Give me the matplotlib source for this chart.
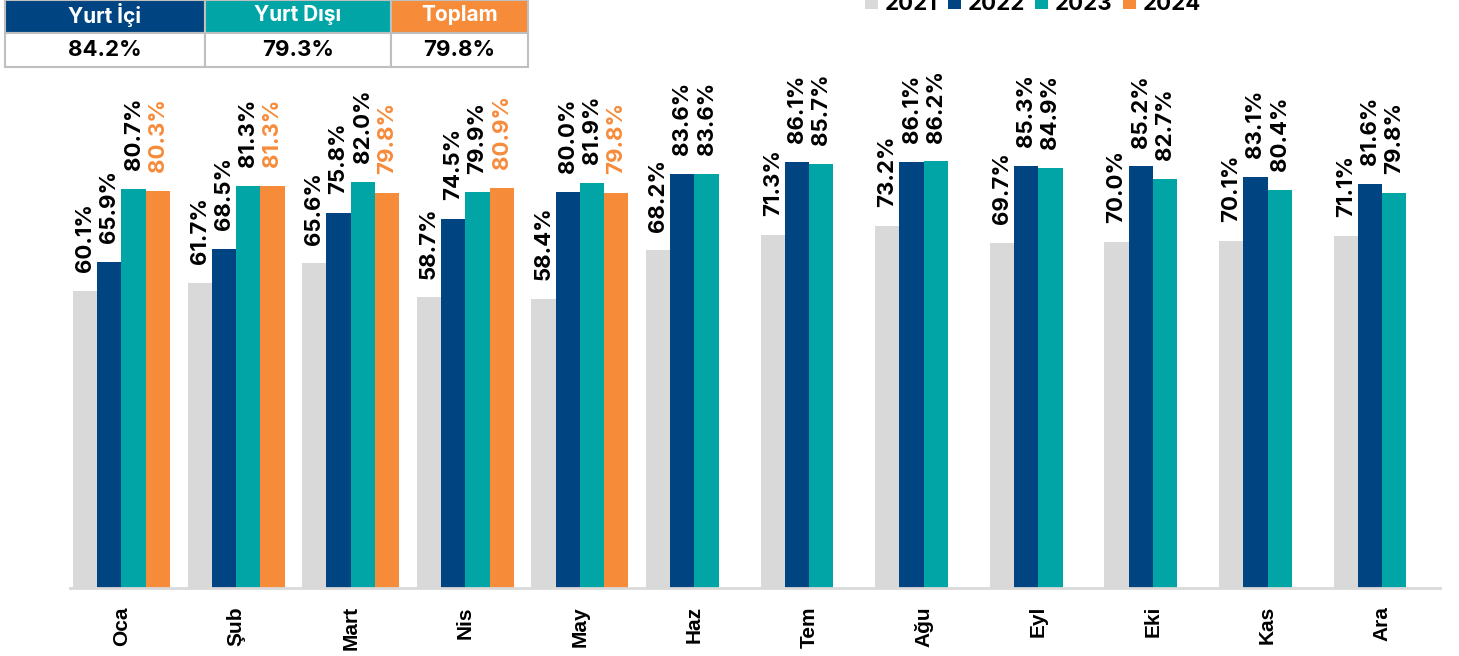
import matplotlib
matplotlib.use("Agg")
import matplotlib.pyplot as plt
from matplotlib.patches import Rectangle, Patch
import numpy as np

months = ["Oca", "Şub", "Mart", "Nis", "May", "Haz", "Tem", "Ağu", "Eyl", "Eki", "Kas", "Ara"]
years = ["2021", "2022", "2023", "2024"]
v2021 = [60.1, 61.7, 65.6, 58.7, 58.4, 68.2, 71.3, 73.2, 69.7, 70.0, 70.1, 71.1]
v2022 = [65.9, 68.5, 75.8, 74.5, 80.0, 83.6, 86.1, 86.1, 85.3, 85.2, 83.1, 81.6]
v2023 = [80.7, 81.3, 82.0, 79.9, 81.9, 83.6, 85.7, 86.2, 84.9, 82.7, 80.4, 79.8]
v2024 = [80.3, 81.3, 79.8, 80.9, 79.8]

table_headers = ["Yurt İçi", "Yurt Dışı", "Toplam"]
table_values = ["84.2%", "79.3%", "79.8%"]

colors = ["#D9D9D9", "#004481", "#02A5A5", "#F68B3A"]
label_colors = ["black", "black", "black", "#F68B3A"]
LABEL_FONT = ["Inter", "DejaVu Sans"]
TICK_FONT = ["Liberation Sans", "DejaVu Sans"]

W, H = 1459, 656
fig = plt.figure(figsize=(W / 100, H / 100), dpi=100)
ax = fig.add_axes([70 / W, 1 - 588 / H, (1440 - 70) / W, (588 - 93) / H])

series = [v2021, v2022, v2023, v2024]
w = 0.2115
x = np.arange(len(months))
for i, vals in enumerate(series):
    xs = x[:len(vals)] + (i - 1.5) * w
    bars = ax.bar(xs, vals, width=w, color=colors[i], linewidth=0, zorder=2)
    for b, v in zip(bars, vals):
        ax.annotate(f"{v:.1f}%", (b.get_x() + b.get_width() / 2, v),
                    xytext=(0, 13.5), textcoords="offset points",
                    rotation=90, ha="center", va="bottom",
                    fontsize=16, fontweight="bold", family=LABEL_FONT,
                    color=label_colors[i], annotation_clip=False)

ax.set_xlim(-0.449, 11.505)
ax.set_ylim(0, 100)
ax.set_xticks(x)
ax.set_xticklabels(months, rotation=90, fontsize=15, fontweight="bold", family=TICK_FONT)
ax.tick_params(axis="x", length=0, pad=13)
ax.set_yticks([])
for s in ["top", "right", "left"]:
    ax.spines[s].set_visible(False)
ax.spines["bottom"].set_color("#D9D9D9")
ax.spines["bottom"].set_linewidth(2)

# legend
handles = [Patch(facecolor=c, edgecolor="none") for c in colors]
leg = fig.legend(handles, years, loc="center", bbox_to_anchor=(1033 / W, 1 - 4 / H),
                 ncol=4, frameon=False, handlelength=0.6, handleheight=0.6,
                 handletextpad=0.3, columnspacing=0.45,
                 prop={"family": LABEL_FONT, "weight": "bold", "size": 16})

# summary table
cells_x = [(5, 205), (205, 391), (391, 528)]
for (x0, x1), head, val, col in zip(cells_x, table_headers, table_values, colors[1:]):
    fig.add_artist(Rectangle((x0 / W, 1 - 33 / H), (x1 - x0) / W, 33 / H,
                             transform=fig.transFigure, facecolor=col,
                             edgecolor="#BFBFBF", linewidth=1.5))
    fig.add_artist(Rectangle((x0 / W, 1 - 67 / H), (x1 - x0) / W, 34 / H,
                             transform=fig.transFigure, facecolor="white",
                             edgecolor="#BFBFBF", linewidth=1.5))
    fig.text((x0 + x1) / 2 / W, 1 - 15 / H, head, ha="center", va="center",
             color="white", fontsize=15, fontweight="bold", family=LABEL_FONT)
    fig.text((x0 + x1) / 2 / W, 1 - 50 / H, val, ha="center", va="center",
             color="black", fontsize=16, fontweight="bold", family=LABEL_FONT)

fig.savefig("out.png", dpi=100)
